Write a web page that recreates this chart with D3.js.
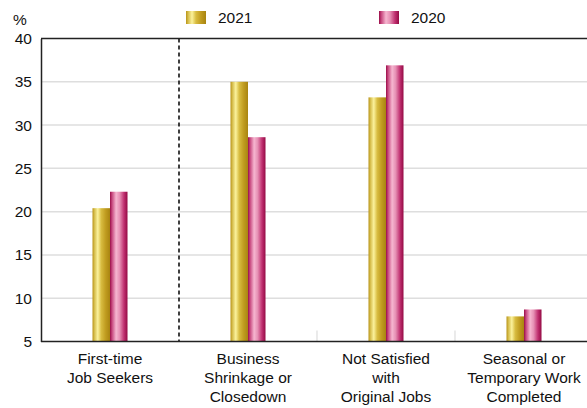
<!DOCTYPE html>
<html>
<head>
<meta charset="utf-8">
<script src="https://cdn.jsdelivr.net/npm/d3@7"></script>
<style>
  html, body { margin: 0; padding: 0; background: #fff; }
  svg { display: block; font-family: "Liberation Sans", Arial, sans-serif; }
</style>
</head>
<body>
<svg id="chart" width="587" height="408"></svg>
<script>
// Reasons for unemployment, % of unemployed
const categories = [
  ["First-time", "Job Seekers"],
  ["Business", "Shrinkage or", "Closedown"],
  ["Not Satisfied", "with", "Original Jobs"],
  ["Seasonal or", "Temporary Work", "Completed"]
];
const seriesNames = ["2021", "2020"];
const values2021 = [20.4, 35.0, 33.2, 7.9];
const values2020 = [22.3, 28.6, 36.9, 8.7];
const yTicks = [5, 10, 15, 20, 25, 30, 35, 40];

const svg = d3.select("#chart");
const margin = { left: 41, top: 38.5, bottom: 341.5 };
const plotRight = 593;

const x = d3.scaleBand().domain(d3.range(categories.length)).range([margin.left, plotRight]);
const y = d3.scaleLinear().domain([5, 40]).range([margin.bottom, margin.top]);
const barW = 17.5;

// Gradients for the cylindrical bar look
const defs = svg.append("defs");
function grad(id, stops) {
  const g = defs.append("linearGradient").attr("id", id)
    .attr("x1", "0%").attr("x2", "100%").attr("y1", "0%").attr("y2", "0%");
  stops.forEach(([o, c]) => g.append("stop").attr("offset", o).attr("stop-color", c));
}
grad("gGold", [["0%", "#b89418"], ["12%", "#d8c050"], ["30%", "#fbf29c"], ["50%", "#d8bc40"], ["75%", "#c09c20"], ["100%", "#a88410"]]);
grad("gPink", [["0%", "#9a0c48"], ["12%", "#c84a80"], ["35%", "#f6b6d0"], ["55%", "#e690b4"], ["80%", "#c03070"], ["100%", "#940a44"]]);
const fills = ["url(#gGold)", "url(#gPink)"];

// Grid lines
svg.append("g").selectAll("line")
  .data(yTicks.filter(t => t > 5 && t < 40))
  .join("line")
  .attr("x1", margin.left).attr("x2", 587)
  .attr("y1", d => y(d)).attr("y2", d => y(d))
  .attr("stroke", "#dedede").attr("stroke-width", 1.5);

// Category separators: dashed after the first group, short ticks elsewhere
const sep = d3.range(1, categories.length).map(i => x(i));
svg.append("line")
  .attr("x1", sep[0]).attr("x2", sep[0])
  .attr("y1", margin.top).attr("y2", margin.bottom)
  .attr("stroke", "#111").attr("stroke-width", 1.6).attr("stroke-dasharray", "4,3");
svg.append("g").selectAll("line").data(sep.slice(1)).join("line")
  .attr("x1", d => d).attr("x2", d => d)
  .attr("y1", margin.bottom - 11).attr("y2", margin.bottom)
  .attr("stroke", "#dddddd").attr("stroke-width", 1.2);

// Bars
const series = [values2021, values2020];
series.forEach((vals, s) => {
  svg.append("g").selectAll("rect").data(vals).join("rect")
    .attr("x", (d, i) => x(i) + x.bandwidth() / 2 - barW + s * barW)
    .attr("width", barW)
    .attr("y", d => y(d))
    .attr("height", d => y(5) - y(d))
    .attr("fill", fills[s]);
});

// Frame: left axis, top and bottom borders
svg.append("line").attr("x1", margin.left).attr("x2", 587)
  .attr("y1", margin.top).attr("y2", margin.top)
  .attr("stroke", "#222").attr("stroke-width", 1.5);
svg.append("line").attr("x1", margin.left).attr("x2", 587)
  .attr("y1", margin.bottom).attr("y2", margin.bottom)
  .attr("stroke", "#222").attr("stroke-width", 1.5);

// Y axis
const yAxis = svg.append("g")
  .attr("transform", `translate(${margin.left},0)`)
  .call(d3.axisLeft(y).tickValues(yTicks).tickSize(0).tickPadding(9));
yAxis.select(".domain").attr("stroke", "#222").attr("stroke-width", 1.5);
yAxis.selectAll("text").attr("font-size", 15.5).attr("fill", "#111")
  .attr("font-family", "Liberation Sans, Arial, sans-serif");

svg.append("text").attr("x", 13).attr("y", 25).text("%")
  .attr("font-size", 15.5).attr("fill", "#111");

// X axis labels
const xl = svg.append("g").selectAll("text").data(categories).join("text")
  .attr("x", (d, i) => x(i) + x.bandwidth() / 2)
  .attr("y", 364)
  .attr("text-anchor", "middle")
  .attr("font-size", 15.5).attr("fill", "#111");
xl.selectAll("tspan").data(d => d).join("tspan")
  .attr("x", function () { return d3.select(this.parentNode).attr("x"); })
  .attr("dy", (d, j) => j === 0 ? 0 : 19)
  .text(d => d);

// Legend
const legendX = [186, 379];
seriesNames.forEach((name, s) => {
  svg.append("rect").attr("x", legendX[s]).attr("y", 11).attr("width", 20).attr("height", 13)
    .attr("fill", fills[s]);
  svg.append("text").attr("x", legendX[s] + 32).attr("y", 23).text(name)
    .attr("font-size", 15.5).attr("fill", "#111");
});
</script>
</body>
</html>
